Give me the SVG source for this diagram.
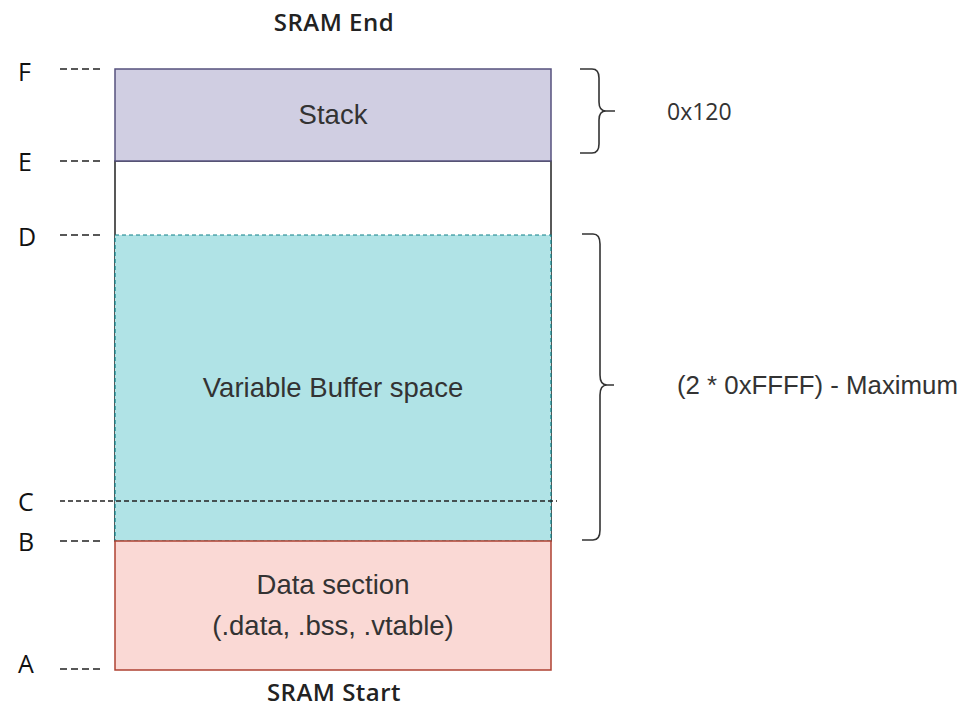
<svg xmlns="http://www.w3.org/2000/svg" width="963" height="710" viewBox="0 0 963 710">
<style>
.lbl{font-family:"Open Sans","Noto Sans",sans-serif;font-size:25px;fill:#111}
.title{font-family:"Open Sans","Noto Sans",sans-serif;font-size:24px;font-weight:600;fill:#222;text-anchor:middle;letter-spacing:0.5px}
.body{font-family:"Liberation Sans",Arial,sans-serif;font-size:27.5px;fill:#333;text-anchor:middle}
.tick{stroke:#222;stroke-width:1.5;stroke-dasharray:7 4;fill:none}
.brace{stroke:#333;stroke-width:1.6;fill:none}
</style>
<rect width="963" height="710" fill="#ffffff"/>
<text class="title" x="334" y="31">SRAM End</text>
<text class="title" x="334" y="701">SRAM Start</text>
<g id="free">
<rect x="115" y="161" width="436" height="380" fill="#ffffff" stroke="#222" stroke-width="1.5"/>
</g>
<g id="stack">
<rect x="115" y="69" width="436" height="92" fill="#d0cee2" stroke="#56517e" stroke-width="1.5"/>
<text class="body" x="333" y="124">Stack</text>
</g>
<g id="buffer">
<rect x="115" y="235" width="436" height="306" fill="#b0e3e6" stroke="#0e8088" stroke-width="1.2" stroke-dasharray="4 3"/>
<text class="body" x="333" y="397">Variable Buffer space</text>
</g>
<g id="data">
<rect x="115" y="541" width="436" height="129" fill="#fad9d5" stroke="#ae4132" stroke-width="1.5"/>
<text class="body" x="333" y="594">Data section</text>
<text class="body" x="333" y="635">(.data, .bss, .vtable)</text>
</g>
<g id="markers">
<text class="lbl" x="18" y="81">F</text>
<text class="lbl" x="18" y="171">E</text>
<text class="lbl" x="18" y="246">D</text>
<text class="lbl" x="18" y="511">C</text>
<text class="lbl" x="18" y="551">B</text>
<text class="lbl" x="18" y="673">A</text>
</g>
<g id="connectors">
<line class="tick" x1="60" y1="69" x2="103" y2="69"/>
<line class="tick" x1="60" y1="161" x2="103" y2="161"/>
<line class="tick" x1="60" y1="235" x2="103" y2="235"/>
<line class="tick" x1="60" y1="541" x2="103" y2="541"/>
<line class="tick" x1="60" y1="669" x2="103" y2="669"/>
<line class="tick" x1="60" y1="501" x2="557" y2="501" style="stroke-dasharray:5 3"/>
<path class="brace" d="M580,69 H592 Q599,69 599,78 V102 Q599,111 606,111 H615 M606,111 Q599,111 599,120 V144 Q599,153 592,153 H580"/>
<path class="brace" d="M582,234 H593 Q600,234 600,244 V375 Q600,385 607,385 H614 M607,385 Q600,385 600,395 V530 Q600,540 593,540 H582"/>
</g>
<g id="sizes">
<text class="lbl" x="667" y="120" style="fill:#333;font-size:23px">0x120</text>
<text class="body" x="677" y="394" style="text-anchor:start;font-size:25.8px">(2 * 0xFFFF) - Maximum</text>
</g>
</svg>
